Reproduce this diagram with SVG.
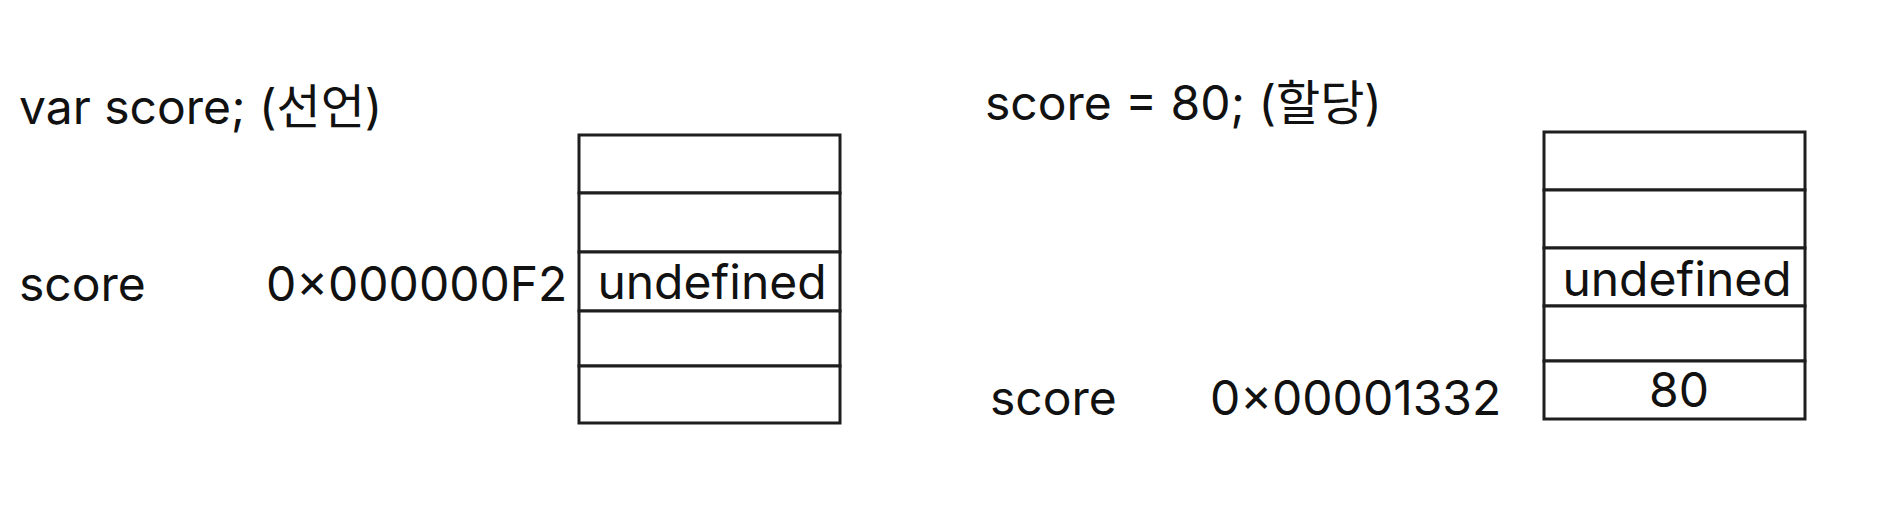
<svg xmlns="http://www.w3.org/2000/svg" width="1886" height="528" viewBox="0 0 1886 528">
<style>
text{font-family:Inter,"Noto Sans CJK KR",sans-serif;font-size:48px;fill:#111}
.cell{fill:#fff;stroke:#1e1e1e;stroke-width:3}
.mid{text-anchor:middle}
</style>
<rect width="1886" height="528" fill="#fff"/>
<g id="left-title"><text x="19" y="124">var score; (선언)</text></g>
<g id="left-label"><text x="19" y="301">score</text></g>
<g id="left-addr"><text x="266" y="301">0×000000F2</text></g>
<g id="left-memory">
<rect class="cell" x="579" y="135" width="261" height="58"/>
<rect class="cell" x="579" y="193" width="261" height="59"/>
<rect class="cell" x="579" y="252" width="261" height="59"/>
<rect class="cell" x="579" y="311" width="261" height="55"/>
<rect class="cell" x="579" y="366" width="261" height="57"/>
<text class="mid" x="712" y="299">undefined</text>
</g>
<g id="right-title"><text x="985" y="120">score = 80; (할당)</text></g>
<g id="right-label"><text x="990" y="415">score</text></g>
<g id="right-addr"><text x="1210" y="415">0×00001332</text></g>
<g id="right-memory">
<rect class="cell" x="1544" y="132" width="261" height="58"/>
<rect class="cell" x="1544" y="190" width="261" height="58"/>
<rect class="cell" x="1544" y="248" width="261" height="58"/>
<rect class="cell" x="1544" y="306" width="261" height="55"/>
<rect class="cell" x="1544" y="361" width="261" height="58"/>
<text class="mid" x="1677" y="296">undefined</text>
<text class="mid" x="1679" y="407">80</text>
</g>
<g id="connectors"/>
</svg>
